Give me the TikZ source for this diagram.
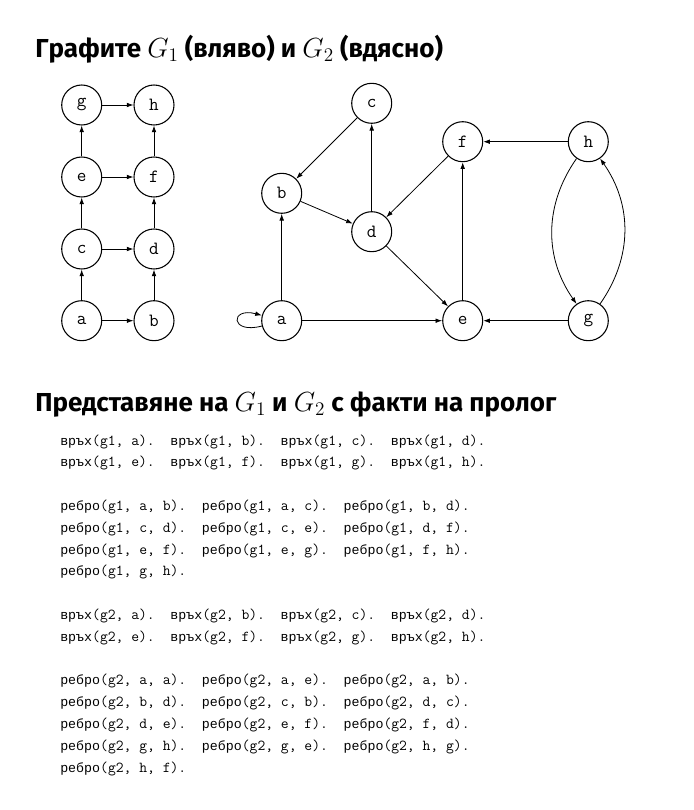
\documentclass[tikz,border=0pt]{standalone}
\usepackage[no-math]{fontspec}
\setmainfont{Fira Sans}
\setmonofont{Latin Modern Mono}
\newfontfamily\cyrtt[Scale=0.875]{Liberation Mono}
\usetikzlibrary{arrows.meta}
\newcommand\Vrah{{\cyrtt връх}}
\newcommand\Rebro{{\cyrtt ребро}}
\begin{document}
\begin{tikzpicture}[x=0.75pt,y=-0.75pt,
  vtx/.style={circle,draw,line width=0.8pt,minimum size=30pt,inner sep=0pt,font=\fontsize{14}{16}\selectfont\ttfamily},
  edge/.style={-{Latex[length=5pt,width=3.5pt]},line width=0.6pt},
  heading/.style={anchor=base west,inner sep=0pt,font=\fontsize{19.5}{24}\selectfont\bfseries},
  code/.style={anchor=base west,inner sep=0pt,font=\fontsize{11.4}{14}\selectfont\ttfamily\frenchspacing}]
\useasboundingbox[fill=white] (0,0) rectangle (693,810);
% headings
\node[heading] (t1) at (35,57) {Графите $G_1$ (вляво) и $G_2$ (вдясно)};
\node[heading] (t2) at (35,411) {Представяне на $G_1$ и $G_2$ с факти на пролог};
% G1
\node[vtx] (a1) at (81.7,320.7) {a};
\node[vtx] (b1) at (154,320.7) {b};
\node[vtx] (c1) at (81.7,249) {c};
\node[vtx] (d1) at (154,249) {d};
\node[vtx] (e1) at (81.7,177) {e};
\node[vtx] (f1) at (154,177) {f};
\node[vtx] (g1) at (81.7,105) {g};
\node[vtx] (h1) at (154,105) {h};
\draw[edge] (a1) -- (b1);
\draw[edge] (a1) -- (c1);
\draw[edge] (b1) -- (d1);
\draw[edge] (c1) -- (d1);
\draw[edge] (c1) -- (e1);
\draw[edge] (d1) -- (f1);
\draw[edge] (e1) -- (f1);
\draw[edge] (e1) -- (g1);
\draw[edge] (f1) -- (h1);
\draw[edge] (g1) -- (h1);
% G2
\node[vtx] (a2) at (281.7,320.7) {a};
\node[vtx] (b2) at (281.7,193.3) {b};
\node[vtx] (c2) at (371.7,103.3) {c};
\node[vtx] (d2) at (371.7,231.7) {d};
\node[vtx] (e2) at (462.7,320.7) {e};
\node[vtx] (f2) at (462.7,141.7) {f};
\node[vtx] (g2) at (588.3,320.7) {g};
\node[vtx] (h2) at (588.3,141.7) {h};
\draw[edge] (a2) to[loop left] (a2);
\draw[edge] (a2) -- (e2);
\draw[edge] (a2) -- (b2);
\draw[edge] (b2) -- (d2);
\draw[edge] (c2) -- (b2);
\draw[edge] (d2) -- (c2);
\draw[edge] (d2) -- (e2);
\draw[edge] (e2) -- (f2);
\draw[edge] (f2) -- (d2);
\draw[edge] (g2) to[bend right=35] (h2);
\draw[edge] (g2) -- (e2);
\draw[edge] (h2) to[bend right=35] (g2);
\draw[edge] (h2) -- (f2);
% code
\node[code] (l1) at (60,445) {\Vrah(g1, a).~~\Vrah(g1, b).~~\Vrah(g1, c).~~\Vrah(g1, d).};
\node[code] (l2) at (60,466.8) {\Vrah(g1, e).~~\Vrah(g1, f).~~\Vrah(g1, g).~~\Vrah(g1, h).};
\node[code] (l3) at (60,510.4) {\Rebro(g1, a, b).~~\Rebro(g1, a, c).~~\Rebro(g1, b, d).};
\node[code] (l4) at (60,532.2) {\Rebro(g1, c, d).~~\Rebro(g1, c, e).~~\Rebro(g1, d, f).};
\node[code] (l5) at (60,554) {\Rebro(g1, e, f).~~\Rebro(g1, e, g).~~\Rebro(g1, f, h).};
\node[code] (l6) at (60,575.8) {\Rebro(g1, g, h).};
\node[code] (l7) at (60,619.4) {\Vrah(g2, a).~~\Vrah(g2, b).~~\Vrah(g2, c).~~\Vrah(g2, d).};
\node[code] (l8) at (60,641.2) {\Vrah(g2, e).~~\Vrah(g2, f).~~\Vrah(g2, g).~~\Vrah(g2, h).};
\node[code] (l9) at (60,684.8) {\Rebro(g2, a, a).~~\Rebro(g2, a, e).~~\Rebro(g2, a, b).};
\node[code] (l10) at (60,706.6) {\Rebro(g2, b, d).~~\Rebro(g2, c, b).~~\Rebro(g2, d, c).};
\node[code] (l11) at (60,728.4) {\Rebro(g2, d, e).~~\Rebro(g2, e, f).~~\Rebro(g2, f, d).};
\node[code] (l12) at (60,750.2) {\Rebro(g2, g, h).~~\Rebro(g2, g, e).~~\Rebro(g2, h, g).};
\node[code] (l13) at (60,772) {\Rebro(g2, h, f).};
\end{tikzpicture}
\end{document}
